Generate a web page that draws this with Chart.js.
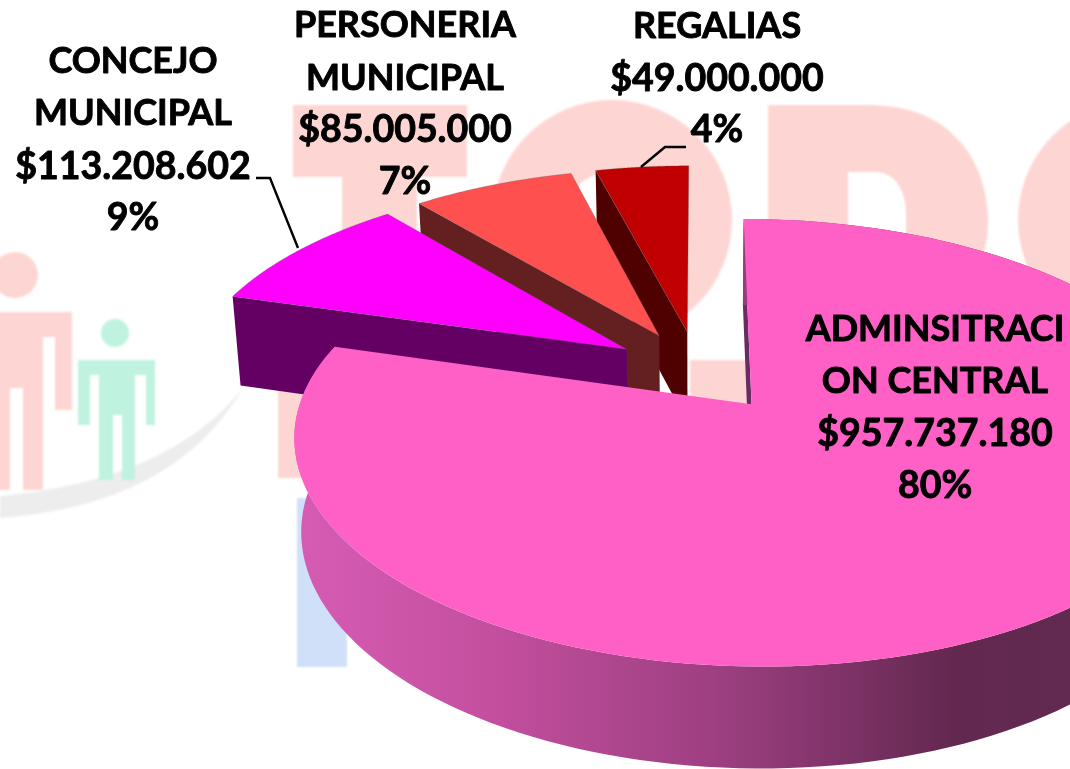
<!DOCTYPE html>
<html><head><meta charset="utf-8">
<style>html,body{margin:0;padding:0;background:#fff;overflow:hidden}#w{position:relative;width:1070px;height:769px}</style>
<script src="https://cdn.jsdelivr.net/npm/chart.js@4"></script>
</head><body><div id="w"><canvas id="c" width="1070" height="769"></canvas></div>
<script>
const categories = ['ADMINSITRACION CENTRAL','CONCEJO MUNICIPAL','PERSONERIA MUNICIPAL','REGALIAS'];
const values = [957737180,113208602,85005000,49000000];
const valueLabels = ['$957.737.180','$113.208.602','$85.005.000','$49.000.000'];
const percentLabels = ['80%','9%','7%','4%'];
const nameLines = [['ADMINSITRACI','ON CENTRAL'],['CONCEJO','MUNICIPAL'],['PERSONERIA','MUNICIPAL'],['REGALIAS']];
const topColors = ['#ff60c6','#ff00ff','#ff5050','#c00000'];
const sideColors = ['#6b2a66','#640064','#642020','#4f0000'];

const labelPos = [{x:935,y:[329,381,434,486]},{x:133,y:[61,113,167,218]},{x:405,y:[25,78,130,182]},{x:717,y:[26,79,130]}];
const view = {cx:698,cy:371,R:440,k:0.468,q:0.00038,shrink:0.983};

function project(X,Y,bottom){
  const s = 1/(1-view.q*Y);
  let x = X*s, y = Y*view.k*s;
  if(bottom){ x*=view.shrink; y += 89+43*(s-0.94); }
  return [view.cx+x, view.cy+y];
}
function plane(arc,a,r){
  const u = view.R/arc.outerRadius;
  const mid=(arc.startAngle+arc.endAngle)/2, off=arc.options.offset*u;
  return [off*Math.cos(mid)+r*Math.cos(a), off*Math.sin(mid)+r*Math.sin(a)];
}
function trace(ctx,pts){ctx.beginPath();pts.forEach((p,i)=>i?ctx.lineTo(p[0],p[1]):ctx.moveTo(p[0],p[1]));ctx.closePath();}
function arcPts(arc,bottom,rev){
  const pts=[],n=160;
  for(let i=0;i<=n;i++){
    const t=rev?1-i/n:i/n, a=arc.startAngle+(arc.endAngle-arc.startAngle)*t;
    const p=plane(arc,a,view.R); pts.push(project(p[0],p[1],bottom));
  }
  return pts;
}
function apex(arc,bottom){const p=plane(arc,0,0);return project(p[0],p[1],bottom);}
function edgeSide(ctx,arc,a,color){
  const p=plane(arc,a,view.R);
  trace(ctx,[apex(arc,false),project(p[0],p[1],false),project(p[0],p[1],true),apex(arc,true)]);
  ctx.fillStyle=color;ctx.fill();
}
const pie3d = {
  id:'pie3d',
  beforeDraw(chart){
    const c=chart.ctx;c.save();c.fillStyle='#fff';c.fillRect(0,0,1070,769);
    c.filter='blur(1px)';
    const red='#fdd6d3',green='#bff3df';
    c.fillStyle='#ededed';c.beginPath();c.moveTo(0,518);c.quadraticCurveTo(175,505,243,388);c.quadraticCurveTo(170,480,0,496);c.closePath();c.fill();
    c.fillStyle=red;
    c.beginPath();c.rect(293,105,174,72);c.rect(342,170,75,127);c.fill();
    c.fillRect(278,360,72,118);c.fillRect(690,360,60,46);
    c.beginPath();c.arc(612,220,120,0,7);c.fill();
    c.beginPath();c.arc(1138,220,120,0,7);c.fill();
    c.beginPath();c.moveTo(768,105);c.lineTo(870,105);c.bezierCurveTo(950,105,988,160,988,223);c.bezierCurveTo(988,260,970,280,950,300);c.lineTo(768,300);c.closePath();c.fill();
    c.fillStyle='#fff';
    c.beginPath();c.ellipse(612,228,52,56,0,0,7);c.fill();
    c.beginPath();c.moveTo(848,172);c.lineTo(875,172);c.bezierCurveTo(895,172,906,190,906,215);c.lineTo(906,280);c.lineTo(848,280);c.closePath();c.fill();
    c.fillStyle=red;
    c.beginPath();c.arc(15,275,23,0,7);c.fill();
    c.beginPath();c.moveTo(-5,312);c.lineTo(72,312);c.lineTo(72,410);c.lineTo(55,410);c.lineTo(55,337);c.lineTo(43,337);c.lineTo(43,490);c.lineTo(23,490);c.lineTo(23,388);c.lineTo(10,388);c.lineTo(10,490);c.lineTo(-5,490);c.closePath();c.fill();
    c.fillStyle=green;
    c.beginPath();c.arc(115,333,14,0,7);c.fill();
    c.beginPath();c.moveTo(78,360);c.lineTo(155,360);c.lineTo(155,425);c.lineTo(146,425);c.lineTo(146,375);c.lineTo(135,375);c.lineTo(135,480);c.lineTo(122,480);c.lineTo(122,415);c.lineTo(113,415);c.lineTo(113,480);c.lineTo(99,480);c.lineTo(99,375);c.lineTo(90,375);c.lineTo(90,425);c.lineTo(78,425);c.closePath();c.fill();
    c.fillStyle='#cfe0f8';c.fillRect(297,498,50,169);
    c.restore();
  },
  beforeDatasetDraw(chart){
    const ctx=chart.ctx,arcs=chart.getDatasetMeta(0).data;
    ctx.save();
    [3,2,1].forEach(i=>{
      const a=arcs[i];
      edgeSide(ctx,a,a.startAngle,sideColors[i]);
      trace(ctx,[apex(a,false),...arcPts(a,false,false)]);
      ctx.fillStyle=topColors[i];ctx.fill();
      ctx.strokeStyle='rgba(90,90,90,.45)';ctx.lineWidth=.7;ctx.stroke();
    });
    const a=arcs[0];
    edgeSide(ctx,a,a.startAngle,sideColors[0]);
    const g=ctx.createLinearGradient(295,0,1070,0);
    g.addColorStop(0,'#d65cb4');g.addColorStop(.25,'#c44f9f');g.addColorStop(.55,'#9c3f80');g.addColorStop(.85,'#632850');g.addColorStop(1,'#622a50');
    trace(ctx,[...arcPts(a,false,false),...arcPts(a,true,true)]);
    ctx.fillStyle=g;ctx.fill();
    trace(ctx,[apex(a,false),...arcPts(a,false,false)]);
    ctx.fillStyle=topColors[0];ctx.fill();
    ctx.restore();
    return false;
  },
  afterDraw(chart){
    const c=chart.ctx;c.save();
    c.strokeStyle='#000';c.lineWidth=2.4;
    c.beginPath();c.moveTo(256,178);c.lineTo(270,178);c.lineTo(298,248);c.stroke();
    c.beginPath();c.moveTo(686,147);c.lineTo(665,147);c.lineTo(641,167);c.stroke();
    c.fillStyle='#000';c.textAlign='center';c.textBaseline='middle';
    c.lineWidth=0.9;c.lineJoin='round';
    categories.forEach((_,i)=>{
      const n=nameLines[i].length;
      const lines=[...nameLines[i],valueLabels[i],percentLabels[i]];
      lines.forEach((t,j)=>{
        c.font=(j<n?'bold 36px Lato':'bold 37.5px Lato');
        c.fillText(t,labelPos[i].x,labelPos[i].y[j]);c.strokeText(t,labelPos[i].x,labelPos[i].y[j]);
      });
    });
    c.restore();
  }
};
new Chart(document.getElementById('c'),{
  type:'pie',
  data:{labels:categories,datasets:[{data:values,backgroundColor:topColors,offset:69,borderWidth:0}]},
  options:{responsive:false,animation:false,events:[],rotation:0,
    layout:{padding:0},plugins:{legend:{display:false},tooltip:{enabled:false}}},
  plugins:[pie3d]
});
</script></body></html>
